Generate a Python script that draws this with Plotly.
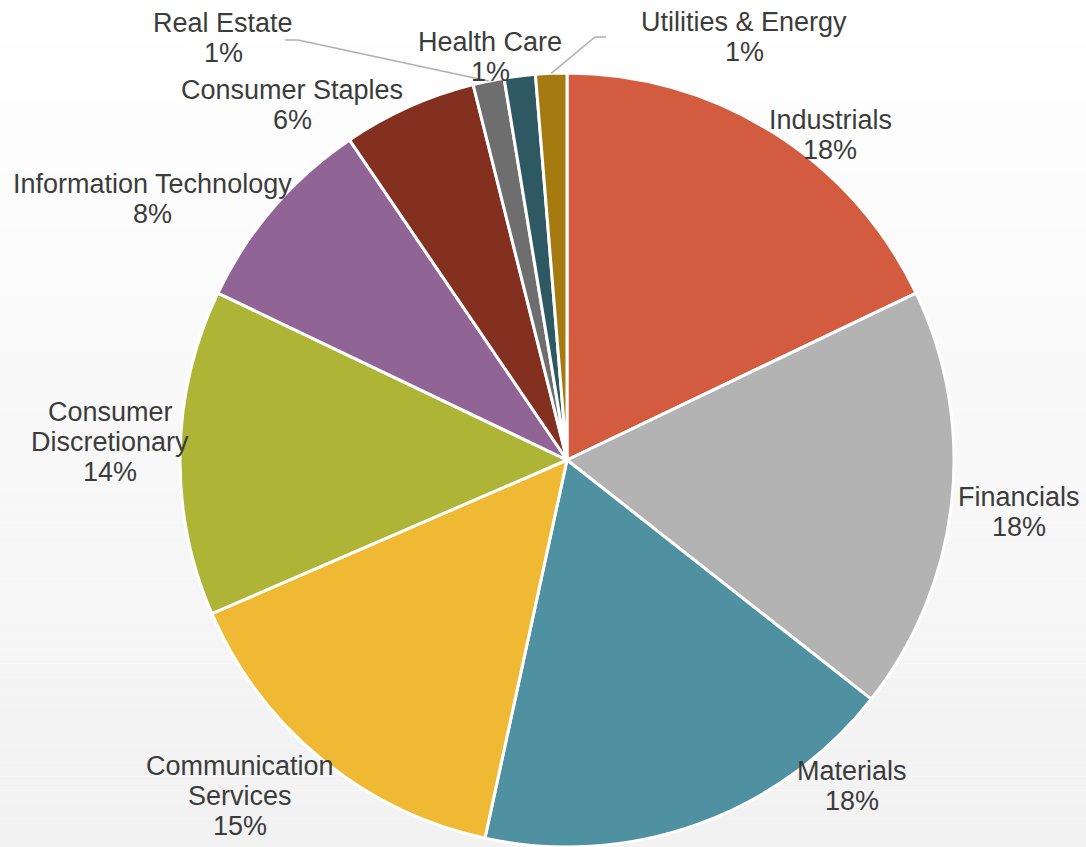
import math
import plotly.graph_objects as go

# Sector weights (percent of portfolio), clockwise from 12 o'clock
sectors = [
    "Industrials", "Financials", "Materials", "Communication Services",
    "Consumer Discretionary", "Information Technology", "Consumer Staples",
    "Real Estate", "Health Care", "Utilities & Energy",
]
weights = [17.9, 17.7, 17.8, 15.1, 13.6, 8.4, 5.6, 1.3, 1.3, 1.3]
colors = [
    "#D35B3F", "#B3B3B3", "#4F91A1", "#F0B934", "#AEB435",
    "#916496", "#833020", "#6E6E6E", "#2E5963", "#A57A10",
]

# How each label's text is broken into lines
label_lines = {
    "Communication Services": ["Communication", "Services"],
    "Consumer Discretionary": ["Consumer", "Discretionary"],
}

W, H = 1086, 847
CX, CY, R = 567, 460, 387  # pie centre and radius in pixels

# Label block centres (pixels) and which labels get a leader line
label_pos = {
    "Industrials": (830, 135),
    "Financials": (1019, 512),
    "Materials": (852, 786),
    "Communication Services": (240, 796),
    "Consumer Discretionary": (110, 442),
    "Information Technology": (152, 199),
    "Consumer Staples": (292, 105),
    "Real Estate": (223, 38),
    "Health Care": (490, 57),
    "Utilities & Energy": (744, 37),
}
leader_start = {
    "Real Estate": [(285, 40), (298, 40)],
    "Utilities & Energy": [(606, 37), (595, 37)],
}
LINE_H = 30
FONT = "Liberation Sans, Arial, sans-serif"
TEXT_COLOR = "#3C3C3C"


def px(x, y):
    return x / W, 1 - y / H


fig = go.Figure(
    go.Pie(
        labels=sectors,
        values=weights,
        sort=False,
        direction="clockwise",
        rotation=0,
        textinfo="none",
        hoverinfo="label+percent",
        marker=dict(colors=colors, line=dict(color="#FFFFFF", width=3)),
        domain=dict(x=[(CX - R) / W, (CX + R) / W], y=[1 - (CY + R) / H, 1 - (CY - R) / H]),
        showlegend=False,
    )
)

# Soft vertical gradient behind the chart
shapes = []
bands = 60
for i in range(bands):
    t = i / (bands - 1)
    v = round(255 - (255 - 242) * t)
    shapes.append(dict(
        type="rect", xref="paper", yref="paper", layer="below",
        x0=0, x1=1, y0=1 - (i + 1) / bands, y1=1 - i / bands,
        fillcolor=f"rgb({v},{v},{v})", line=dict(width=0),
    ))

# Labels with percentages derived from the weights
total = sum(weights)
annotations = []
cum = 0.0
for name, w in zip(sectors, weights):
    mid = (cum + w / 2) / total * 2 * math.pi
    cum += w
    lines = label_lines.get(name, [name]) + [f"{round(100 * w / total)}%"]
    bx, by = label_pos[name]
    top = by - LINE_H * (len(lines) - 1) / 2
    for k, line in enumerate(lines):
        x, y = px(bx, top + k * LINE_H)
        annotations.append(dict(
            x=x, y=y, xref="paper", yref="paper", text=line, showarrow=False,
            xanchor="center", yanchor="middle",
            font=dict(family=FONT, size=27, color=TEXT_COLOR),
        ))
    if name in leader_start:
        ex, ey = CX + R * math.sin(mid), CY - R * math.cos(mid)
        pts = leader_start[name] + [(ex, ey)]
        path = "M " + " L ".join(f"{px(x, y)[0]},{px(x, y)[1]}" for x, y in pts)
        shapes.append(dict(
            type="path", xref="paper", yref="paper", path=path,
            line=dict(color="#B0B0B0", width=1.5),
        ))

fig.update_layout(
    width=W, height=H,
    margin=dict(l=0, r=0, t=0, b=0),
    paper_bgcolor="#FFFFFF",
    plot_bgcolor="rgba(0,0,0,0)",
    shapes=shapes,
    annotations=annotations,
)

fig.write_html("out.html")
